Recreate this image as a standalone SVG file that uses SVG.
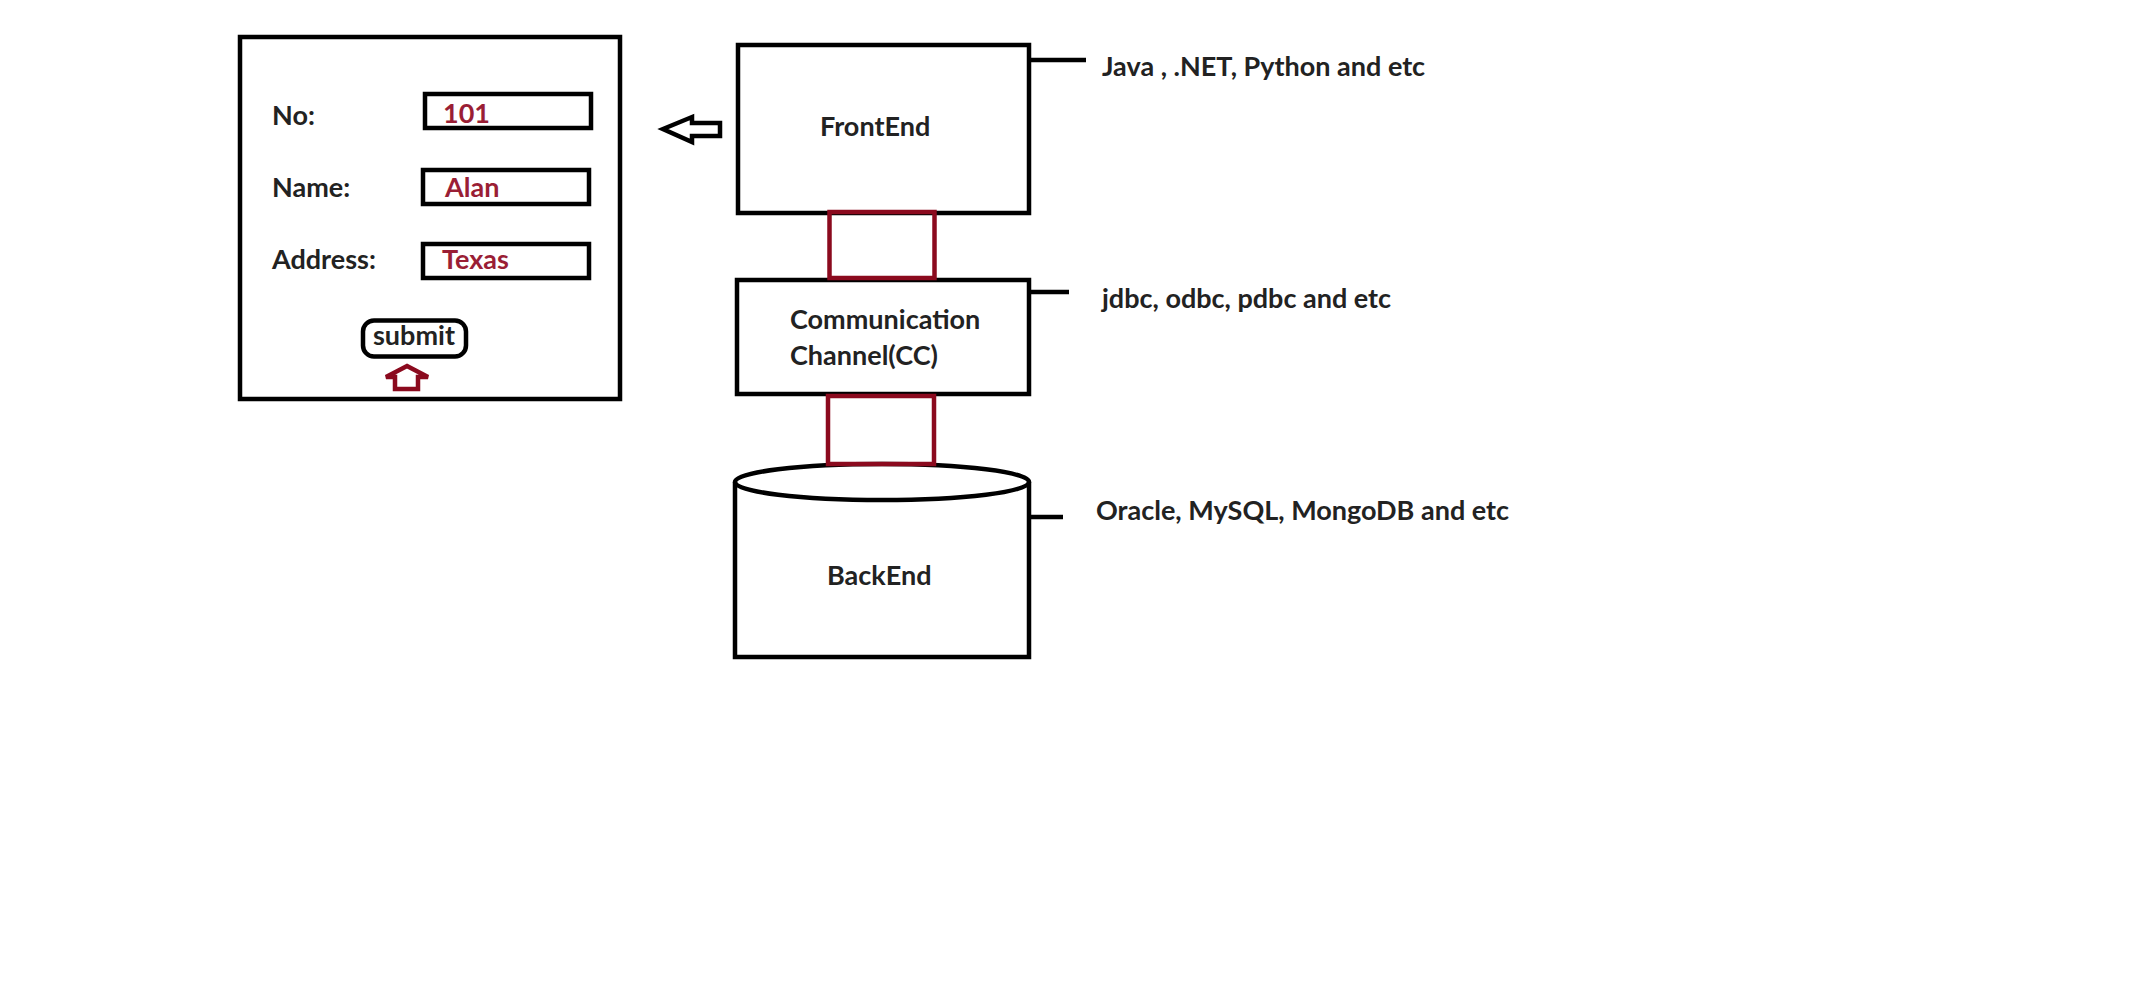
<svg xmlns="http://www.w3.org/2000/svg" width="2156" height="997" viewBox="0 0 2156 997">
<style>
.k{fill:none;stroke:#000;stroke-width:4.5}
.r{fill:none;stroke:#8B0A1E;stroke-width:4.5}
.t{font-family:Lato,"Open Sans","Liberation Sans",sans-serif;font-weight:bold;font-size:27px;fill:#222}
.rt{font-family:Lato,"Open Sans","Liberation Sans",sans-serif;font-weight:bold;font-size:27px;fill:#9A1E35}
</style>
<rect width="2156" height="997" fill="#fff"/>
<g id="form">
<rect class="k" x="240" y="37" width="380" height="362"/>
<text class="t" x="272" y="125">No:</text>
<text class="t" x="272" y="197">Name:</text>
<text class="t" x="272" y="269">Address:</text>
<rect class="k" x="425" y="94" width="166" height="34"/>
<text class="rt" x="443" y="123">101</text>
<rect class="k" x="423" y="170" width="166" height="34"/>
<text class="rt" x="445" y="197">Alan</text>
<rect class="k" x="423" y="244" width="166" height="34"/>
<text class="rt" x="442" y="269">Texas</text>
<rect class="k" x="363" y="320.5" width="103" height="36" rx="11"/>
<text class="t" x="373" y="345">submit</text>
<polygon class="r" points="407,366 428,377 418,377 418,389 395,389 395,377 386,377"/>
</g>
<g id="frontend">
<rect class="k" x="738" y="45" width="291" height="168"/>
<text class="t" x="820" y="136">FrontEnd</text>
</g>
<g id="cc">
<rect class="k" x="737" y="280" width="292" height="114"/>
<text class="t" x="790" y="329">Communication</text>
<text class="t" x="790" y="365">Channel(CC)</text>
</g>
<g id="backend">
<path class="k" d="M735,482 L735,657 L1029,657 L1029,482"/>
<ellipse class="k" cx="882" cy="482" rx="147" ry="18"/>
<text class="t" x="827" y="585">BackEnd</text>
</g>
<g id="labels">
<text class="t" x="1102" y="76">Java , .NET, Python and etc</text>
<text class="t" x="1102" y="308">jdbc, odbc, pdbc and etc</text>
<text class="t" x="1096" y="520">Oracle, MySQL, MongoDB and etc</text>
</g>
<g id="connectors">
<rect class="r" x="829.5" y="212" width="105" height="66"/>
<rect class="r" x="828" y="396" width="106" height="68"/>
<polygon class="k" points="663,129 692,117 692,123 720,123 720,136 692,136 692,142"/>
<line class="k" x1="1029" y1="60" x2="1086" y2="60"/>
<line class="k" x1="1029" y1="292" x2="1069" y2="292"/>
<line class="k" x1="1029" y1="517" x2="1063" y2="517"/>
</g>
</svg>
